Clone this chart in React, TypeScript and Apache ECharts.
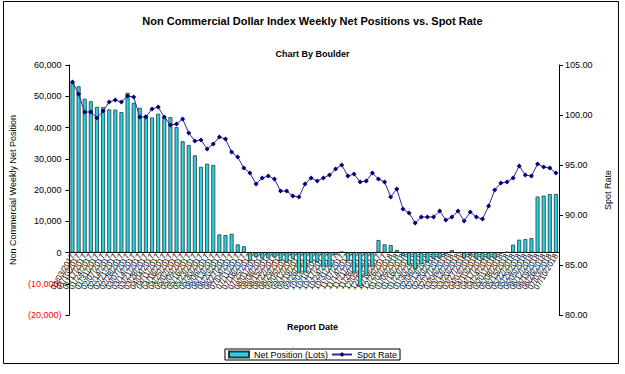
import React, { useEffect, useRef } from "react";
import * as echarts from "echarts";

const dates: string[] = [
  "01/03/2017", "01/10/2017", "01/17/2017", "01/24/2017", "01/31/2017", "02/07/2017", "02/14/2017", "02/21/2017", "02/28/2017",
  "03/07/2017", "03/14/2017", "03/21/2017", "03/28/2017", "04/04/2017", "04/11/2017", "04/18/2017", "04/25/2017",
  "05/02/2017", "05/09/2017", "05/16/2017", "05/23/2017", "05/30/2017", "06/06/2017", "06/13/2017", "06/20/2017", "06/27/2017",
  "07/04/2017", "07/11/2017", "07/18/2017", "07/25/2017", "08/01/2017", "08/08/2017", "08/15/2017", "08/22/2017", "08/29/2017",
  "09/05/2017", "09/12/2017", "09/19/2017", "09/26/2017", "10/03/2017", "10/10/2017", "10/17/2017", "10/24/2017", "10/31/2017",
  "11/07/2017", "11/14/2017", "11/21/2017", "11/28/2017", "12/05/2017", "12/12/2017", "12/19/2017", "12/26/2017",
  "01/02/2018", "01/09/2018", "01/16/2018", "01/23/2018", "01/30/2018", "02/06/2018", "02/13/2018", "02/20/2018", "02/27/2018",
  "03/06/2018", "03/13/2018", "03/20/2018", "03/27/2018", "04/03/2018", "04/10/2018", "04/17/2018", "04/24/2018",
  "05/01/2018", "05/08/2018", "05/15/2018", "05/22/2018", "05/29/2018", "06/05/2018", "06/12/2018", "06/19/2018", "06/26/2018",
  "07/03/2018", "07/10/2018",
];

const netPosition: number[] = [
  54400, 53200, 49200, 48400, 46600, 46500, 45800, 45700, 44900, 51100,
  47900, 46300, 44000, 43200, 44400, 43300, 43300, 40100, 35600, 34400,
  31100, 27400, 28400, 28000, 5800, 5600, 6000, 2600, 2000, -2700,
  -1500, -2000, -1900, -1600, -2700, -3200, -2100, -6400, -6300, -3200,
  -3000, -4500, -4500, -800, 300, -2700, -6400, -10800, -7500, -4500,
  4000, 2600, 2400, 800, -1100, -3900, -5300, -3700, -3000, -2000,
  -1700, -600, 800, -200, -1800, -800, -2000, -2300, -2000, -1900,
  -400, 200, 2500, 4100, 4300, 4600, 17900, 18200, 18700, 18700,
];

const spotRate: number[] = [
  103.3, 102.1, 100.3, 100.3, 99.7, 100.4, 101.3, 101.5, 101.3, 101.9,
  101.8, 99.8, 99.8, 100.6, 100.8, 99.8, 99.0, 99.1, 99.6, 98.2,
  97.4, 97.5, 96.6, 97.1, 97.8, 97.6, 96.3, 95.8, 94.7, 94.2,
  93.1, 93.7, 93.9, 93.6, 92.4, 92.4, 91.9, 91.8, 93.1, 93.7,
  93.4, 93.7, 94.0, 94.6, 95.0, 93.9, 94.1, 93.3, 93.4, 94.2,
  93.6, 93.3, 91.8, 92.6, 90.6, 90.2, 89.2, 89.8, 89.8, 89.8,
  90.4, 89.5, 89.8, 90.4, 89.4, 90.3, 89.8, 89.6, 90.9, 92.5,
  93.2, 93.3, 93.7, 94.9, 94.0, 93.9, 95.1, 94.8, 94.7, 94.2,
];

const FONT = "Liberation Sans, Arial, sans-serif";
const LEFT_MIN = -20000;
const LEFT_MAX = 60000;
const GRID_TOP = 65;
const GRID_BOTTOM = 59;
const CHART_H = 374;

function fmtLeft(v: number): string {
  const s = Math.abs(v).toLocaleString("en-US");
  return v < 0 ? "(" + s + ")" : s;
}

export default function App() {
  const ref = useRef<HTMLDivElement>(null);
  useEffect(() => {
    document.body.style.margin = "0";
    if (!ref.current) return;
    const chart = echarts.init(ref.current, undefined, { renderer: "svg" });
    const gridH = CHART_H - GRID_TOP - GRID_BOTTOM;
    const zeroOffset = -(gridH * (0 - LEFT_MIN)) / (LEFT_MAX - LEFT_MIN);
    chart.setOption({
      animation: false,
      backgroundColor: "#ffffff",
      textStyle: { fontFamily: FONT },
      title: [
        {
          text: "Non Commercial Dollar Index Weekly Net Positions vs. Spot Rate",
          left: "center",
          top: 10,
          textStyle: { fontSize: 11, fontWeight: "bold", color: "#000", fontFamily: FONT },
        },
        {
          text: "Chart By Boulder",
          left: "center",
          top: 44,
          textStyle: { fontSize: 9, fontWeight: "bold", color: "#000", fontFamily: FONT },
        },
      ],
      legend: {
        bottom: 14,
        left: "center",
        itemGap: 3,
        itemWidth: 20,
        itemHeight: 6,
        borderColor: "#000",
        borderWidth: 1,
        padding: [1, 3],
        textStyle: { fontSize: 9, color: "#000", fontFamily: FONT },
        data: [
          { name: "Net Position (Lots)", icon: "rect" },
          { name: "Spot Rate" },
        ],
      },
      grid: { left: 67, right: 66, top: GRID_TOP, bottom: GRID_BOTTOM },
      xAxis: {
        type: "category",
        data: dates,
        offset: zeroOffset,
        axisLine: { onZero: false, lineStyle: { color: "#000", width: 1 } },
        axisTick: { interval: 0, length: 3, lineStyle: { color: "#000" } },
        axisLabel: {
          interval: 0,
          rotate: 60,
          fontSize: 8,
          color: "#000",
          margin: 2,
          fontFamily: FONT,
        },
        splitLine: { show: false },
      },
      yAxis: [
        {
          type: "value",
          min: LEFT_MIN,
          max: LEFT_MAX,
          interval: 10000,
          name: "Non Commercial Weekly Net Position",
          nameLocation: "middle",
          nameGap: 35,
          nameTextStyle: { fontSize: 9, color: "#000", fontFamily: FONT },
          axisLine: { show: true, lineStyle: { color: "#000" } },
          axisTick: { show: true, length: 4, lineStyle: { color: "#000" } },
          axisLabel: {
            fontSize: 9,
            margin: 8,
            fontFamily: FONT,
            formatter: fmtLeft,
            color: (v: any) => (Number(v) < 0 ? "#ff0000" : "#000000"),
          },
          splitLine: { show: false },
        },
        {
          type: "value",
          min: 80,
          max: 105,
          interval: 5,
          name: "Spot Rate",
          nameLocation: "middle",
          nameGap: 33,
          nameRotate: 90,
          nameTextStyle: { fontSize: 9, color: "#000", fontFamily: FONT },
          axisLine: { show: true, lineStyle: { color: "#000" } },
          axisTick: { show: true, length: 4, lineStyle: { color: "#000" } },
          axisLabel: {
            fontSize: 9,
            margin: 6,
            color: "#000",
            fontFamily: FONT,
            formatter: (v: number) => v.toFixed(2),
          },
          splitLine: { show: false },
        },
      ],
      series: [
        {
          name: "Net Position (Lots)",
          type: "bar",
          data: netPosition,
          barWidth: 4,
          itemStyle: { color: "#1fd6e6", borderColor: "#333333", borderWidth: 0.8 },
        },
        {
          name: "Spot Rate",
          type: "line",
          yAxisIndex: 1,
          data: spotRate,
          symbol: "diamond",
          symbolSize: 5,
          lineStyle: { color: "#2a2a90", width: 1 },
          itemStyle: { color: "#000080" },
        },
      ],
      graphic: [
        {
          type: "text",
          left: "center",
          top: 322,
          style: { text: "Report Date", fontSize: 9, fontWeight: "bold", fill: "#000", fontFamily: FONT },
        },
        {
          type: "rect",
          shape: { x: 3.5, y: 1.5, width: 615, height: 362 },
          style: { fill: "none", stroke: "#000", lineWidth: 1 },
          silent: true,
        },
      ],
    });
    return () => chart.dispose();
  }, []);
  return <div ref={ref} style={{ width: 625, height: 374 }} />;
}
